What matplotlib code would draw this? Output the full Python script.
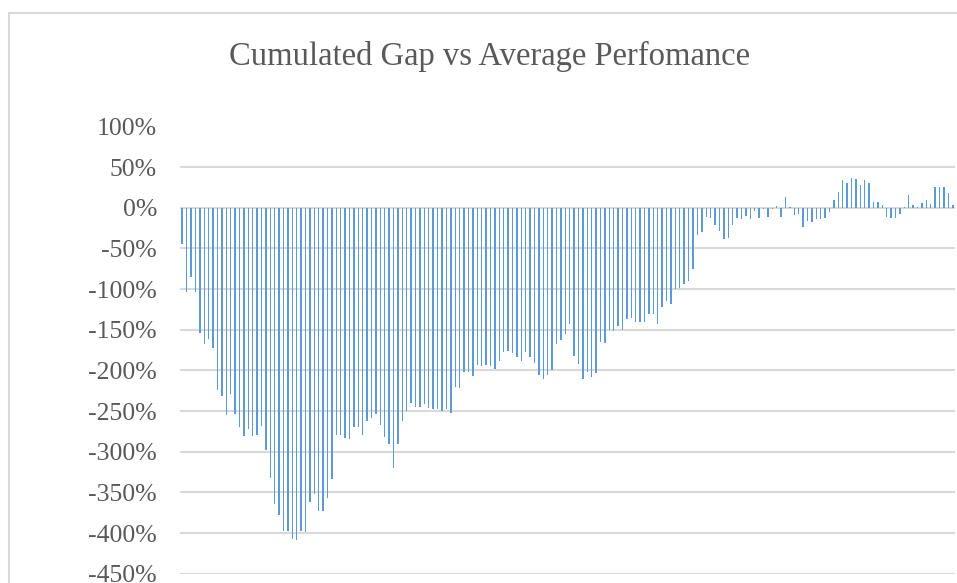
import numpy as np
import matplotlib
matplotlib.use('Agg')
import matplotlib.pyplot as plt
from matplotlib.lines import Line2D
from matplotlib.ticker import FuncFormatter

# cumulated gap per period, in percent
gap_pct = [
    -44, -104, -85, -103, -154, -167, -161, -172, -224, -231,
    -255, -229, -253, -269, -281, -272, -281, -279, -268, -298,
    -332, -364, -378, -398, -397, -407, -408, -398, -399,
    -362, -352, -373, -373, -357, -333,
    -279, -280, -283, -284, -270, -270, -280, -262, -258, -253,
    -267, -282, -291, -320, -290, -262, -250, -240, -245, -245,
    -241, -246, -247, -247, -250,
    -248, -252,
    -220, -221, -202, -202, -207, -193, -194, -193, -195, -198,
    -188, -177, -176, -179, -183, -188, -177, -184, -191, -206,
    -210, -206, -200, -168, -163, -155, -143, -182,
    -192, -211, -202, -208, -203, -165, -166, -150, -152, -145,
    -150, -137, -136, -140, -141, -140, -130, -131, -143, -122,
    -114, -118, -100, -99, -94, -90, -75, -34, -30, -11,
    -12, -21, -28, -38, -37, -21, -12, -14, -10, -14,
    -4, -12, -1, -11, -2, 2, -11, 13, 1, -9,
    -7, -24, -16, -17, -14, -14, -12, -5, 10,
    19, 34, 30, 37, 36, 28, 34, 30, 7, 7,
    3, -11, -12, -12, -7, 1, 16, 3, 1, 6,
    9, 5, 26, 25, 25, 18, 3,
]
y_ticks = [100, 50, 0, -50, -100, -150, -200, -250, -300, -350, -400, -450]
title = 'Cumulated Gap vs Average Perfomance'

plt.rcParams['font.family'] = ['Liberation Serif', 'DejaVu Serif']

W, H = 957, 583
fig = plt.figure(figsize=(W / 100, H / 100), dpi=100)
ax = fig.add_axes([180 / W, 1 - 573.7 / H, 775 / W, (573.7 - 126.5) / H])

x = np.arange(len(gap_pct))
ax.bar(x, gap_pct, width=0.32, color='#5B9BD5', zorder=3)

ax.set_xlim(-0.5, len(gap_pct) - 0.5)
ax.set_ylim(min(y_ticks), max(y_ticks))
ax.set_yticks(y_ticks)
ax.yaxis.set_major_formatter(FuncFormatter(lambda v, p: f'{v:.0f}%'))
ax.set_xticks([])
ax.tick_params(axis='y', length=0, pad=16.5, labelsize=18.5, labelcolor='#595959')
ax.grid(axis='y', color='#d9d9d9', linewidth=1.5, zorder=0)
for s in ax.spines.values():
    s.set_visible(False)

fig.text(490 / W, 1 - 56 / H, title, ha='center', va='center',
         fontsize=23.5, color='#595959')

# chart area frame (only top and left edges fall inside the picture)
fx, fy = 9.3 / W, 1 - 12.7 / H
fig.add_artist(Line2D([fx, fx], [fy, -0.1], color='#d9d9d9', linewidth=1.5))
fig.add_artist(Line2D([fx, 1.1], [fy, fy], color='#d9d9d9', linewidth=1.5))

fig.savefig('out.png', dpi=100)
